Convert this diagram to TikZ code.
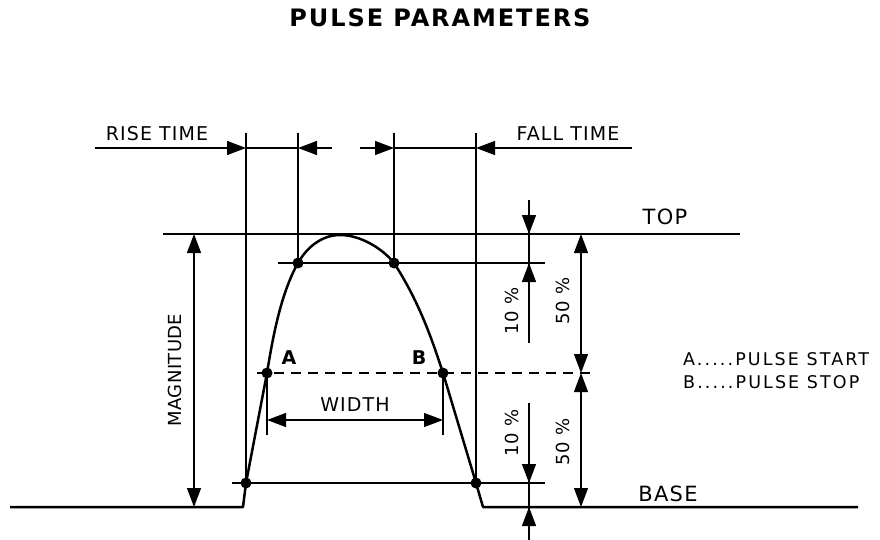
\documentclass[tikz,border=0pt]{standalone}
\usepackage{fontspec}
\setmainfont{DejaVu Sans}[LetterSpace=6]
\newfontfamily\keyfont{DejaVu Sans}[LetterSpace=12]
\newfontfamily\ttlfont{DejaVu Sans}[LetterSpace=8]
\usetikzlibrary{arrows.meta}

\begin{document}
\begin{tikzpicture}[x=1pt, y=-1pt,
  guide/.style={line width=1.3pt},
  wave/.style={line width=2.5pt, line join=round},
  tip/.style={-{Triangle[length=19pt, width=14pt]}},
  dimline/.style={guide, {Triangle[length=19pt, width=14pt]}-{Triangle[length=19pt, width=14pt]}},
  lbl/.style={font=\fontsize{19}{21}\selectfont, inner sep=0pt},
  biglbl/.style={lbl, font=\fontsize{21}{23}\selectfont},
  pct/.style={lbl, font=\fontsize{18}{20}\selectfont, rotate=90},
  keylbl/.style={inner sep=0pt, font=\keyfont\fontsize{17.5}{19}\selectfont, anchor=west},
  ttl/.style={inner sep=0pt, font=\ttlfont\fontsize{24}{26}\selectfont\bfseries},
  dot/.style={circle, fill, inner sep=0pt, minimum size=11pt}
]
  \useasboundingbox (0,0) rectangle (880,540);

  \node[ttl] (title) at (440,18) {PULSE PARAMETERS};

  \coordinate (bl) at (10,507);
  \coordinate (s0) at (243,507);
  \coordinate (s1) at (246,483);
  \coordinate (pa) at (267,373);
  \coordinate (s2) at (298,263);
  \coordinate (pk) at (340,235);
  \coordinate (s3) at (394,263);
  \coordinate (pb) at (443,373);
  \coordinate (s4) at (476,483);
  \coordinate (s5) at (483,507);
  \coordinate (br) at (858,507);

  \draw[guide] (163,234) -- (740,234);
  \draw[guide] (278,263) -- (545,263);
  \draw[guide, dash pattern=on 10pt off 7pt] (257,373) -- (590,373);
  \draw[guide] (232,483) -- (545,483);

  \draw[guide] (246,133) -- (s1);
  \draw[guide] (298,133) -- (s2);
  \draw[guide] (394,133) -- (s3);
  \draw[guide] (476,133) -- (s4);

  \draw[guide, tip] (95,148) -- (246,148);
  \draw[guide] (246,148) -- (298,148);
  \draw[guide, tip] (332,148) -- (298,148);
  \draw[guide, tip] (360,148) -- (394,148);
  \draw[guide] (394,148) -- (476,148);
  \draw[guide, tip] (632,148) -- (476,148);

  \draw[wave] (bl) -- (s0) -- (s1) -- (pa)
    .. controls (273,336) and (281,293) .. (s2)
    .. controls (307,247) and (322,235) .. (pk)
    .. controls (360,235) and (382,248) .. (s3)
    .. controls (418,300) and (431,336) .. (pb)
    -- (s4) -- (s5) -- (br);

  \foreach \p in {s1, pa, s2, s3, pb, s4}
    \node[dot] at (\p) {};

  \draw[dimline] (194,234) -- (194,507);
  \node[lbl, rotate=90, font=\fontsize{18}{20}\selectfont\addfontfeatures{LetterSpace=2}] (mag) at (175,370) {MAGNITUDE};

  \draw[guide] (pa) -- (267,435);
  \draw[guide] (pb) -- (443,435);
  \draw[dimline] (267,420) -- (443,420);
  \node[lbl] (wid) at (355,405) {WIDTH};
  \node[lbl, font=\fontsize{19}{21}\selectfont\bfseries] (la) at (289,358) {A};
  \node[lbl, font=\fontsize{19}{21}\selectfont\bfseries] (lb) at (419,358) {B};

  \draw[guide] (529,200) -- (529,343);
  \draw[guide, tip] (529,200) -- (529,234);
  \draw[guide, tip] (529,343) -- (529,263);
  \draw[guide] (529,403) -- (529,540);
  \draw[guide, tip] (529,403) -- (529,483);
  \draw[guide, tip] (529,540) -- (529,507);

  \draw[dimline] (581,234) -- (581,373);
  \draw[dimline] (581,373) -- (581,507);

  \node[pct] (up10) at (512,311) {10 \%};
  \node[pct] (lo10) at (512,433) {10 \%};
  \node[pct] (up50) at (563,301) {50 \%};
  \node[pct] (lo50) at (563,442) {50 \%};

  \node[lbl] (rise) at (157,134) {RISE TIME};
  \node[lbl] (fall) at (568,134) {FALL TIME};
  \node[biglbl] (top) at (665,217) {TOP};
  \node[biglbl] (base) at (668,494) {BASE};
  \node[keylbl] (keya) at (683,359) {A.....PULSE START};
  \node[keylbl] (keyb) at (683,382) {B.....PULSE STOP};
\end{tikzpicture}
\end{document}
